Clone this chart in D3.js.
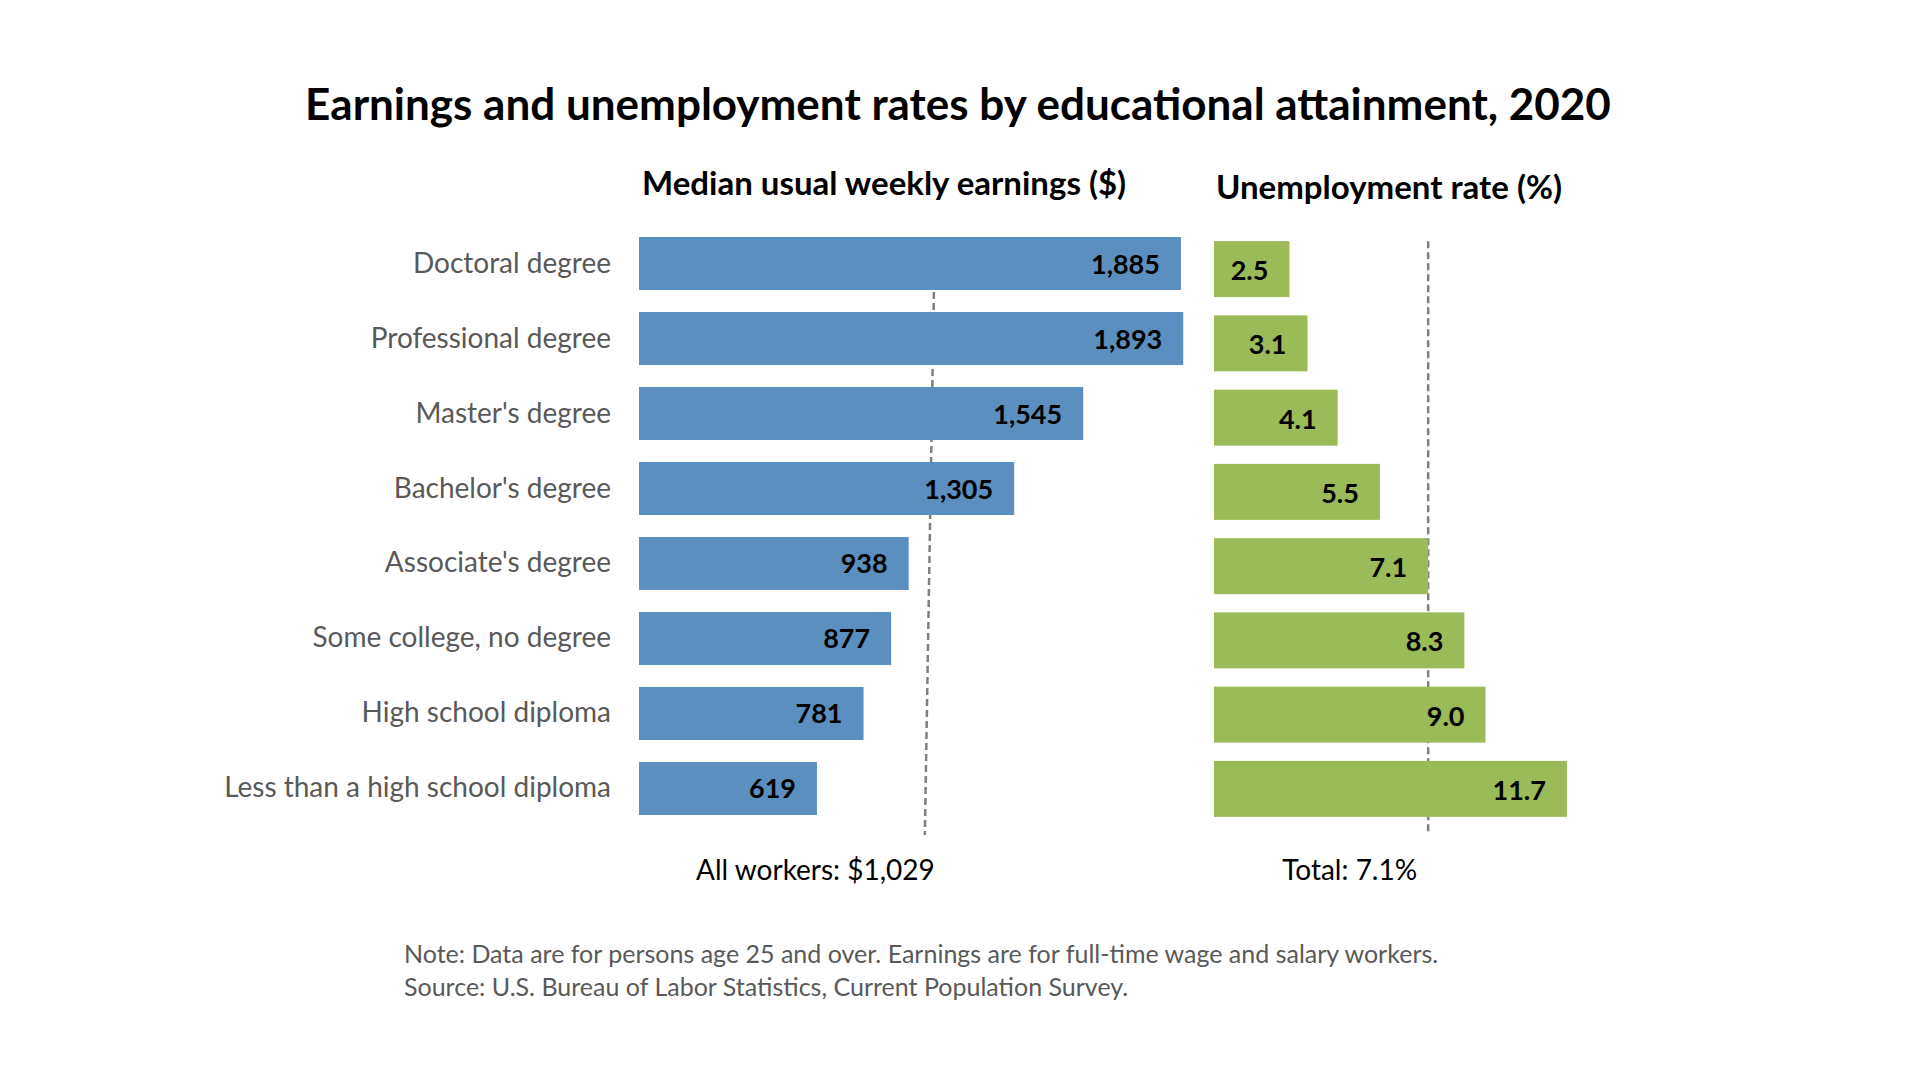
<!DOCTYPE html>
<html>
<head>
<meta charset="utf-8">
<script src="https://cdn.jsdelivr.net/npm/d3@7"></script>
<style>
  body { margin: 0; background: #fff; }
  text { font-family: Lato, "Open Sans", sans-serif; }
</style>
</head>
<body>
<div id="chart"></div>
<script>

// Data
var categories = [
    "Doctoral degree",
    "Professional degree",
    "Master's degree",
    "Bachelor's degree",
    "Associate's degree",
    "Some college, no degree",
    "High school diploma",
    "Less than a high school diploma"
];
var earnings = [1885, 1893, 1545, 1305, 938, 877, 781, 619];
var unemployment = [2.5, 3.1, 4.1, 5.5, 7.1, 8.3, 9.0, 11.7];
var allWorkersEarnings = 1029;
var totalUnemployment = 7.1;

var width = 1920, height = 1080;

var svg = d3.select("#chart").append("svg")
    .attr("width", width)
    .attr("height", height);

// Scales
var xE = d3.scaleLinear().domain([0, 2000]).range([639, 1214]);
var xU = d3.scaleLinear().domain([0, 12]).range([1214, 1576]);

var yE = d3.scaleBand().domain(categories).range([226, 826])
    .paddingInner(0.293).paddingOuter(0.1467);
var yU = d3.scaleBand().domain(categories).range([232, 826])
    .paddingInner(0.246).paddingOuter(0.123);

var comma = d3.format(",");
var oneDec = d3.format(".1f");

// Title
svg.append("text")
    .attr("x", 958)
    .attr("y", 120)
    .attr("text-anchor", "middle")
    .style("font-size", "44px")
    .style("font-weight", "bold")
    .style("fill", "#000")
    .text("Earnings and unemployment rates by educational attainment, 2020");

// Panel headings
svg.append("text")
    .attr("x", xE(0) + 3)
    .attr("y", 195)
    .style("font-size", "33px")
    .style("font-weight", "bold")
    .text("Median usual weekly earnings ($)");

svg.append("text")
    .attr("x", xU(0) + 2)
    .attr("y", 199)
    .style("font-size", "33px")
    .style("font-weight", "bold")
    .text("Unemployment rate (%)");

// Reference lines (behind the bars)
svg.append("line")
    .attr("x1", xE(allWorkersEarnings))
    .attr("x2", xE(allWorkersEarnings) - 10)
    .attr("y1", yE(categories[0]))
    .attr("y2", 835)
    .style("stroke", "#7f7f7f")
    .style("stroke-width", 2.5)
    .style("stroke-dasharray", "7,4");

svg.append("line")
    .attr("x1", xU(totalUnemployment))
    .attr("x2", xU(totalUnemployment))
    .attr("y1", yU(categories[0]))
    .attr("y2", 835)
    .style("stroke", "#7f7f7f")
    .style("stroke-width", 2.5)
    .style("stroke-dasharray", "7,4");

// Category labels
svg.selectAll(".cat")
    .data(categories)
    .enter().append("text")
    .attr("class", "cat")
    .attr("x", 611)
    .attr("y", function(d) { return yE(d) + yE.bandwidth() / 2 + 9; })
    .attr("text-anchor", "end")
    .style("font-size", "28px")
    .style("fill", "#595959")
    .text(function(d) { return d; });

// Earnings bars
svg.selectAll(".ebar")
    .data(earnings)
    .enter().append("rect")
    .attr("class", "ebar")
    .attr("x", xE(0))
    .attr("y", function(d, i) { return yE(categories[i]); })
    .attr("width", function(d) { return xE(d) - xE(0); })
    .attr("height", yE.bandwidth())
    .style("fill", "#5b8fbf");

svg.selectAll(".elab")
    .data(earnings)
    .enter().append("text")
    .attr("class", "elab")
    .attr("x", function(d) { return xE(d) - 21; })
    .attr("y", function(d, i) { return yE(categories[i]) + yE.bandwidth() / 2 + 10; })
    .attr("text-anchor", "end")
    .style("font-size", "27px")
    .style("font-weight", "bold")
    .style("fill", "#000")
    .text(function(d) { return comma(d); });

// Unemployment bars
svg.selectAll(".ubar")
    .data(unemployment)
    .enter().append("rect")
    .attr("class", "ubar")
    .attr("x", xU(0))
    .attr("y", function(d, i) { return yU(categories[i]); })
    .attr("width", function(d) { return xU(d) - xU(0); })
    .attr("height", yU.bandwidth())
    .style("fill", "#9bbb59");

svg.selectAll(".ulab")
    .data(unemployment)
    .enter().append("text")
    .attr("class", "ulab")
    .attr("x", function(d) { return xU(d) - 21; })
    .attr("y", function(d, i) { return yU(categories[i]) + yU.bandwidth() / 2 + 11; })
    .attr("text-anchor", "end")
    .style("font-size", "27px")
    .style("font-weight", "bold")
    .style("fill", "#000")
    .text(function(d) { return oneDec(d); });

// Reference line captions
svg.append("text")
    .attr("x", xE(allWorkersEarnings))
    .attr("y", 880)
    .attr("text-anchor", "end")
    .style("font-size", "28px")
    .style("fill", "#000")
    .text("All workers: $" + comma(allWorkersEarnings));

svg.append("text")
    .attr("x", xU(totalUnemployment) - 11)
    .attr("y", 880)
    .attr("text-anchor", "end")
    .style("font-size", "28px")
    .style("fill", "#000")
    .text("Total: " + oneDec(totalUnemployment) + "%");

// Footnotes
svg.append("text")
    .attr("x", 404)
    .attr("y", 963)
    .style("font-size", "25px")
    .style("fill", "#595959")
    .text("Note: Data are for persons age 25 and over. Earnings are for full-time wage and salary workers.");

svg.append("text")
    .attr("x", 404)
    .attr("y", 996)
    .style("font-size", "25px")
    .style("fill", "#595959")
    .text("Source: U.S. Bureau of Labor Statistics, Current Population Survey.");

</script>
</body>
</html>
